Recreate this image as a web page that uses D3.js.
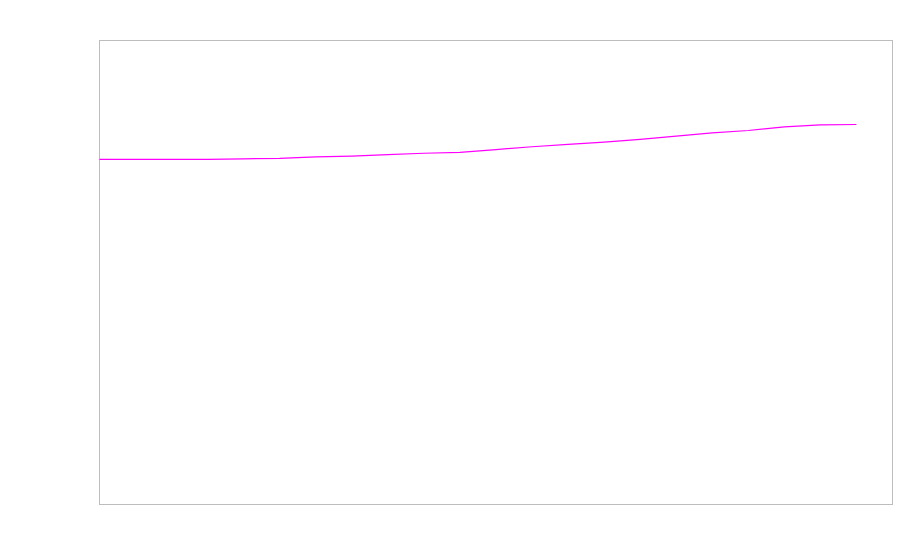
<!DOCTYPE html>
<html>
<head>
<meta charset="utf-8">
<script src="https://cdn.jsdelivr.net/npm/d3@7"></script>
<style>
  html, body { margin: 0; padding: 0; background: #fff; }
</style>
</head>
<body>
<div id="chart"></div>
<script>
// series, one value per year
const years = d3.range(2000, 2022);
const values = [74.4, 74.4, 74.4, 74.4, 74.5, 74.6, 74.9, 75.1, 75.4, 75.7, 75.9,
                76.5, 77.1, 77.6, 78.1, 78.7, 79.4, 80.1, 80.6, 81.4, 81.8, 81.9];
const xDomain = [2000, 2022];
const yDomain = [0, 100];

const width = 900, height = 560;
const margin = { top: 40.5, right: 7.5, bottom: 55.5, left: 99.5 };
const innerW = width - margin.left - margin.right;
const innerH = height - margin.top - margin.bottom;

const svg = d3.select("#chart")
    .append("svg")
    .attr("width", width)
    .attr("height", height);

const g = svg.append("g")
    .attr("transform", "translate(" + margin.left + "," + margin.top + ")");

const x = d3.scaleLinear().domain(xDomain).range([0, innerW]);
const y = d3.scaleLinear().domain(yDomain).range([innerH, 0]);

// plot frame
g.append("rect")
    .attr("x", 0)
    .attr("y", 0)
    .attr("width", innerW)
    .attr("height", innerH)
    .attr("fill", "none")
    .attr("stroke", "#bdbdbd")
    .attr("stroke-width", 1);

const line = d3.line()
    .x((d, i) => x(years[i]))
    .y(d => y(d));

g.append("path")
    .datum(values)
    .attr("fill", "none")
    .attr("stroke", "#ff00ff")
    .attr("stroke-width", 1.2)
    .attr("d", line);
</script>
</body>
</html>
